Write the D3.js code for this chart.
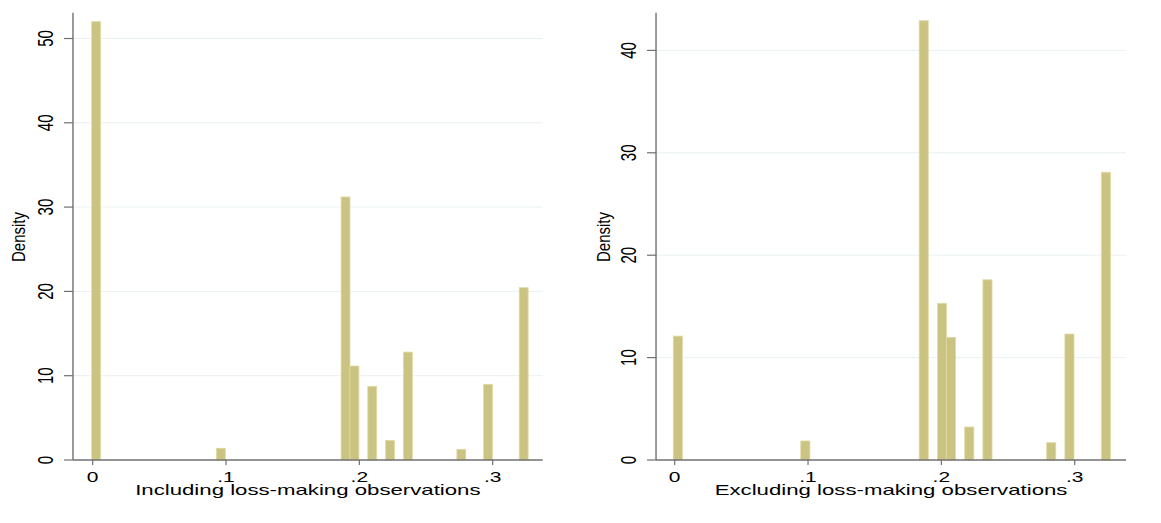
<!DOCTYPE html>
<html>
<head>
<meta charset="utf-8">
<script src="https://cdn.jsdelivr.net/npm/d3@7"></script>
<style>
  html, body { margin: 0; padding: 0; background: #fff; }
  svg { display: block; }
  text { font-family: "Liberation Sans", Arial, sans-serif; fill: #000; }
</style>
</head>
<body>
<svg id="chart" width="1161" height="523"></svg>
<script>
// Histogram bins: lower edge of each non-empty bin and its density
const leftBinEdges   = [-0.00075, 0.09277, 0.18629, 0.19297, 0.20633, 0.21969, 0.23305, 0.27313, 0.29317, 0.31989];
const leftDensity    = [52.0, 1.39, 31.2, 11.15, 8.74, 2.33, 12.8, 1.27, 8.98, 20.44];
const leftBinWidth   = 0.00668;

const rightBinEdges  = [-0.00105, 0.09457, 0.18336, 0.19702, 0.20385, 0.21751, 0.23117, 0.27898, 0.29264, 0.31996];
const rightDensity   = [12.1, 1.86, 42.9, 15.3, 11.98, 3.22, 17.6, 1.69, 12.3, 28.1];
const rightBinWidth  = 0.00683;

// Axis ticks and labels
const xTicks       = [0, 0.1, 0.2, 0.3];
const xTickLabels  = ["0", ".1", ".2", ".3"];
const leftYTicks   = [0, 10, 20, 30, 40, 50];
const rightYTicks  = [0, 10, 20, 30, 40];

// Axis extents (data units)
const leftXExtent  = [-0.0148, 0.3375];
const rightXExtent = [-0.0140, 0.3385];
const leftYMax     = 53.06;
const rightYMax    = 43.68;

const titles = ["Including loss-making observations", "Excluding loss-making observations"];
const yTitle = "Density";

const svg = d3.select("#chart");

const BAR_FILL = "#cbc381";
const BAR_EDGE = "#e0d9a6";
const AXIS_COL = "#707070";
const GRID_COL = "#e9f1f2";

function panel(cfg) {
  const g = svg.append("g");
  const x = d3.scaleLinear().domain([0, 0.3]).range(cfg.xRange);
  const y = d3.scaleLinear().domain([0, cfg.yRef]).range(cfg.yRange);

  const x0 = x(cfg.xExtent[0]), x1 = x(cfg.xExtent[1]);

  // grid lines
  g.selectAll("line.grid").data(cfg.yTicks.filter(d => d > 0)).join("line")
    .attr("x1", x0).attr("x2", x1)
    .attr("y1", d => y(d)).attr("y2", d => y(d))
    .attr("stroke", GRID_COL).attr("stroke-width", 1);

  // bars
  g.selectAll("rect.bar").data(cfg.edges.map((e, i) => ({ e, v: cfg.dens[i] }))).join("rect")
    .attr("x", d => x(d.e))
    .attr("width", d => x(d.e + cfg.bw) - x(d.e))
    .attr("y", d => y(d.v))
    .attr("height", d => y(0) - y(d.v))
    .attr("fill", BAR_FILL)
    .attr("stroke", BAR_EDGE)
    .attr("stroke-width", 0.8);

  // y axis line
  g.append("line")
    .attr("x1", x0).attr("x2", x0)
    .attr("y1", y(0)).attr("y2", y(cfg.yMax))
    .attr("stroke", AXIS_COL).attr("stroke-width", 1.4);
  // x axis line
  g.append("line")
    .attr("x1", x0).attr("x2", x1)
    .attr("y1", y(0)).attr("y2", y(0))
    .attr("stroke", AXIS_COL).attr("stroke-width", 1.4);

  // y ticks
  g.selectAll("line.ytick").data(cfg.yTicks).join("line")
    .attr("x1", x0 - 9).attr("x2", x0)
    .attr("y1", d => y(d)).attr("y2", d => y(d))
    .attr("stroke", AXIS_COL).attr("stroke-width", 1.2);
  g.selectAll("text.ylab").data(cfg.yTicks).join("text")
    .attr("transform", d => `translate(${x0 - 20},${y(d)}) scale(1.5,1) rotate(-90)`)
    .attr("text-anchor", "middle")
    .attr("font-size", 15)
    .text(d => d);

  // x ticks
  g.selectAll("line.xtick").data(xTicks).join("line")
    .attr("x1", d => x(d)).attr("x2", d => x(d))
    .attr("y1", y(0)).attr("y2", y(0) + 5)
    .attr("stroke", AXIS_COL).attr("stroke-width", 1.2);
  g.selectAll("text.xlab").data(xTicks).join("text")
    .attr("transform", d => `translate(${x(d)},481.5) scale(1.5,1)`)
    .attr("text-anchor", "middle")
    .attr("font-size", 14)
    .text((d, i) => xTickLabels[i]);

  // axis titles
  g.append("text")
    .attr("transform", `translate(${(x0 + x1) / 2},495) scale(1.48,1)`)
    .attr("text-anchor", "middle")
    .attr("font-size", 15)
    .text(cfg.title);
  g.append("text")
    .attr("transform", `translate(${cfg.yTitleX},237) scale(1.2,1) rotate(-90)`)
    .attr("text-anchor", "middle")
    .attr("font-size", 15)
    .text(yTitle);
}

panel({
  xRange: [92.7, 492.7], xExtent: leftXExtent,
  yRef: 50, yRange: [460, 38.5], yMax: leftYMax, yTicks: leftYTicks,
  edges: leftBinEdges, dens: leftDensity, bw: leftBinWidth,
  title: titles[0], yTitleX: 24.6
});
panel({
  xRange: [674.7, 1074.7], xExtent: rightXExtent,
  yRef: 40, yRange: [460, 50.4], yMax: rightYMax, yTicks: rightYTicks,
  edges: rightBinEdges, dens: rightDensity, bw: rightBinWidth,
  title: titles[1], yTitleX: 609.6
});
</script>
</body>
</html>
